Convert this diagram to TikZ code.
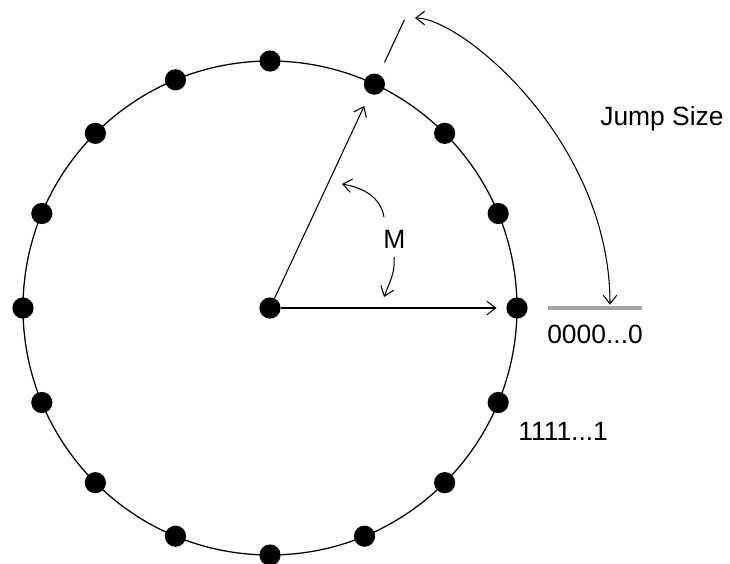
\documentclass[tikz,border=0pt]{standalone}
\usepackage{fontspec}
\setmainfont{Liberation Sans}
\usetikzlibrary{arrows.meta}

\begin{document}
\begin{tikzpicture}[
  >={Straight Barb[length=2.2mm,width=3.4mm]},
  dot/.style={circle, fill=black, inner sep=0pt, minimum size=5.3mm},
  lbl/.style={anchor=base west, inner sep=0pt, font=\fontsize{18.8}{22}\selectfont},
  ring/.style={line width=0.9pt},
  conn/.style={line width=0.75pt},
]

% ── Radius of the ring (cm, 1cm = 40px) ──────────────────────
\def\R{6.175}

\useasboundingbox (-6.75,-6.375) rectangle (11.5,7.7);

% ── Ring ─────────────────────────────────────────────────────
\draw[ring] (0,0) circle (\R);

% ── Nodes ────────────────────────────────────────────────────
\node[dot] (c) at (0,0) {};
\foreach \ang/\nm in {
    0/p0, 22.5/p1, 45/p2, 65/p3,
    90/p4, 112.5/p5, 135/p6, 157.5/p7,
    180/p8, 202.5/p9, 225/p10, 247.5/p11,
    270/p12, 292.5/p13, 315/p14, 337.5/p15} {
    \node[dot] (\nm) at (\ang:\R) {};
}

% ── Radii ────────────────────────────────────────────────────
\draw[conn, ->, shorten >=2.4mm] (c) -- (p0);
\draw[conn, ->, shorten >=3.3mm] (c) -- (p3);

% ── Angle M ──────────────────────────────────────────────────
\node[lbl] (m) at (2.825,1.5) {M};
\coordinate (m1) at (2.85,2.275);
\coordinate (m2) at (1.8,3.1);
\coordinate (m3) at (3.1,1.275);
\coordinate (m4) at (2.85,0.275);
\draw[conn, ->] (m1) to[out=100, in=-10] (m2);
\draw[conn, ->] (m3) to[out=-85, in=70] (m4);

% ── Tick, base line and jump ─────────────────────────────────
\coordinate (t1) at (65:6.775);
\coordinate (t2) at (65:7.95);
\draw[line width=0.8pt] (t1) -- (t2);

\coordinate (g0) at (6.95,0);
\coordinate (g1) at (9.3,0);
\draw[line width=2.3pt, gray!70] (g0) -- (g1);

\coordinate (js) at (3.625,7.25);
\coordinate (je) at (8.5,0.08);
\draw[conn, <->] (js) .. controls (4.8,7.25) and (8.5,4.17) .. (je);

% ── Labels ───────────────────────────────────────────────────
\node[lbl] (zero) at (6.925,-0.875) {0000...0};
\node[lbl] (one)  at (6.2,-3.3)     {1111...1};
\node[lbl] (jump) at (8.25,4.575)   {Jump Size};

\end{tikzpicture}
\end{document}
